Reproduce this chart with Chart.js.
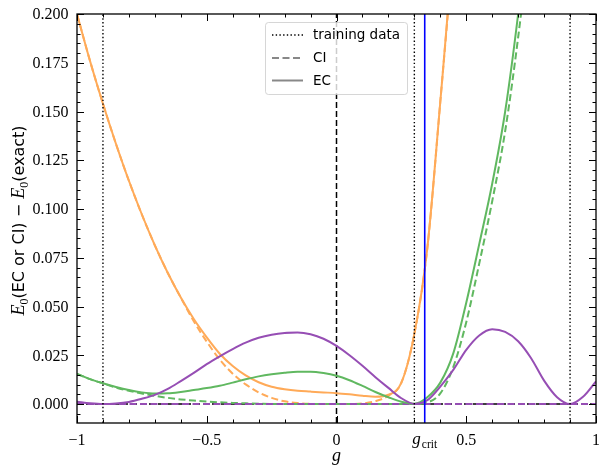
<!DOCTYPE html>
<html>
<head>
<meta charset="utf-8">
<script src="https://cdn.jsdelivr.net/npm/chart.js@4/dist/chart.umd.min.js"></script>
<style>
  html, body { margin: 0; padding: 0; background: #fff; }
  canvas { display: block; }
</style>
</head>
<body>
<canvas id="chart" width="599" height="469" style="width:599px;height:469px"></canvas>
<script>
// Coupling g on the horizontal axis
const gValues = [
  -1.00, -0.95, -0.90, -0.85, -0.80, -0.75, -0.70, -0.65, -0.60, -0.55,
  -0.50, -0.45, -0.40, -0.35, -0.30, -0.25, -0.20, -0.15, -0.10, -0.05,
   0.00,  0.05,  0.10,  0.15,  0.20,  0.25,  0.30,  0.35,  0.40,  0.45,
   0.50,  0.55,  0.60,  0.65,  0.70,  0.75,  0.80,  0.85,  0.90,  0.95,
   1.00
];

// Ground-state error E0(method) - E0(exact), one array per curve
const orangeEC = [
  0.2000, 0.1760, 0.1540, 0.1335, 0.1145, 0.0972, 0.0814, 0.0672, 0.0546, 0.0436,
  0.0342, 0.0258, 0.0195, 0.0147, 0.0112, 0.0089, 0.0076, 0.0068, 0.0064, 0.0060,
  0.0056, 0.0050, 0.0043, 0.0038, 0.0048, 0.011, 0.036, 0.080, 0.155, 0.235,
  0.33, null, null, null, null, null, null, null, null, null,
  null
];
const orangeCI = [
  0.2000, 0.1760, 0.1540, 0.1335, 0.1145, 0.0972, 0.0814, 0.0672, 0.0546, 0.0425,
  0.0320, 0.0228, 0.0156, 0.0101, 0.0060, 0.0032, 0.0014, 0.0005, 0.0001, 0.0,
  0.0, 0.0, 0.0003, 0.0015, 0.0043, 0.011, 0.036, 0.080, 0.155, 0.235,
  0.33, null, null, null, null, null, null, null, null, null,
  null
];
const greenEC = [
  0.0155, 0.0128, 0.0107, 0.0088, 0.0072, 0.0060, 0.0054, 0.0055, 0.0062, 0.0072,
  0.0082, 0.0094, 0.0110, 0.0127, 0.0142, 0.0153, 0.0161, 0.0166, 0.0166, 0.0159,
  0.0145, 0.0122, 0.0093, 0.0062, 0.0035, 0.0012, 0.0002, 0.0035, 0.011, 0.026,
  0.052, 0.082, 0.113, 0.150, 0.200, 0.26, null, null, null, null,
  null
];
const greenCI = [
  0.0155, 0.0128, 0.0106, 0.0085, 0.0068, 0.0054, 0.0042, 0.0032, 0.0024, 0.0018,
  0.0013, 0.0009, 0.0006, 0.0004, 0.0002, 0.0001, 0.0001, 0.0, 0.0, 0.0,
  0.0, 0.0, 0.0, 0.0, 0.0, 0.0, 0.0, 0.0008, 0.0055, 0.019,
  0.042, 0.072, 0.104, 0.140, 0.188, 0.245, null, null, null, null,
  null
];
const purpleEC = [
  0.0012, 0.0004, 0.0, 0.0003, 0.0011, 0.0027, 0.0047, 0.0078, 0.0118, 0.0160,
  0.0205, 0.0245, 0.0282, 0.0315, 0.0340, 0.0356, 0.0365, 0.0367, 0.0358, 0.0335,
  0.0298, 0.0250, 0.0196, 0.0138, 0.0083, 0.0030, 0.0001, 0.0020, 0.0090, 0.0175,
  0.0278, 0.0352, 0.0384, 0.0370, 0.0322, 0.0235, 0.0120, 0.0035, 0.0, 0.0037,
  0.0116
];
const purpleCI = [
  0, 0, 0, 0, 0, 0, 0, 0, 0, 0,
  0, 0, 0, 0, 0, 0, 0, 0, 0, 0,
  0, 0, 0, 0, 0, 0, 0, 0, 0, 0,
  0, 0, 0, 0, 0, 0, 0, 0, 0, 0,
  0
];

// Training points and critical coupling
const trainingG = [-0.9, 0.3, 0.9];
const gCrit = 0.34;

// Axis ranges and tick labels
const xRange = [-1, 1];
const yRange = [-0.0097, 0.2];
const xMajorTicks = [-1, -0.5, 0, 0.5, 1];
const xTickLabels = ['\u22121', '\u22120.5', '0', '0.5', '1'];
const yMajorTicks = [0, 0.025, 0.05, 0.075, 0.1, 0.125, 0.15, 0.175, 0.2];
const yTickLabels = ['0.000', '0.025', '0.050', '0.075', '0.100', '0.125', '0.150', '0.175', '0.200'];
const legendLabels = ['training data', 'CI', 'EC'];

const COLORS = {
  orange: 'rgb(255,170,88)',
  green: 'rgb(96,184,96)',
  purple: 'rgb(150,78,180)',
  blue: '#0000ff',
  black: '#000000'
};

const toPoints = (xs, ys) => xs.map((x, i) => ({ x: x, y: ys[i] }));
const vLine = (x) => [{ x: x, y: yRange[0] }, { x: x, y: yRange[1] }];
const hLine = (y) => [{ x: xRange[0], y: y }, { x: xRange[1], y: y }];

function curve(data, color, dashed, order) {
  return {
    data: toPoints(gValues, data),
    borderColor: color,
    borderWidth: 2,
    borderDash: dashed ? [7, 3.5] : [],
    cubicInterpolationMode: 'monotone',
    pointRadius: 0,
    showLine: true,
    fill: false,
    spanGaps: false,
    clip: 0,
    order: order
  };
}
function straight(data, color, width, dash, order) {
  return {
    data: data,
    borderColor: color,
    borderWidth: width,
    borderDash: dash,
    pointRadius: 0,
    showLine: true,
    fill: false,
    clip: 0,
    order: order
  };
}

const datasets = [
  straight(vLine(gCrit), COLORS.blue, 1.6, [], 0),
  ...trainingG.map(g => straight(vLine(g), COLORS.black, 1.4, [1.4, 2.3], 1)),
  curve(purpleEC, COLORS.purple, false, 2),
  curve(greenEC, COLORS.green, false, 2),
  curve(orangeEC, COLORS.orange, false, 2),
  curve(purpleCI, COLORS.purple, true, 3),
  curve(greenCI, COLORS.green, true, 3),
  curve(orangeCI, COLORS.orange, true, 3),
  straight(vLine(0), COLORS.black, 1.5, [6, 3], 4),
  straight(hLine(0), COLORS.black, 1.5, [6, 3], 4)
];

const SERIF = '"Liberation Serif", "DejaVu Serif", serif';
const SANS = '"DejaVu Sans", sans-serif';

// Matplotlib-style legend box inside the plot area
const legendBox = {
  id: 'legendBox',
  afterDatasetsDraw(chart) {
    const ctx = chart.ctx;
    const x = 265.5, y = 22.5, w = 142, h = 72, r = 3;
    ctx.save();
    ctx.setLineDash([]);
    ctx.beginPath();
    ctx.moveTo(x + r, y);
    ctx.lineTo(x + w - r, y);
    ctx.arcTo(x + w, y, x + w, y + r, r);
    ctx.lineTo(x + w, y + h - r);
    ctx.arcTo(x + w, y + h, x + w - r, y + h, r);
    ctx.lineTo(x + r, y + h);
    ctx.arcTo(x, y + h, x, y + h - r, r);
    ctx.lineTo(x, y + r);
    ctx.arcTo(x, y, x + r, y, r);
    ctx.closePath();
    ctx.fillStyle = 'rgba(255,255,255,0.8)';
    ctx.fill();
    ctx.strokeStyle = 'rgba(204,204,204,0.8)';
    ctx.lineWidth = 1;
    ctx.stroke();

    const rows = [35, 58, 80.5];
    const styles = [
      { color: '#000', width: 1.4, dash: [1.4, 2.3] },
      { color: '#888', width: 2, dash: [7, 3.5] },
      { color: '#888', width: 2, dash: [] }
    ];
    ctx.font = '13.5px ' + SANS;
    ctx.textBaseline = 'middle';
    ctx.textAlign = 'left';
    rows.forEach((ry, i) => {
      const s = styles[i];
      ctx.beginPath();
      ctx.setLineDash(s.dash);
      ctx.strokeStyle = s.color;
      ctx.lineWidth = s.width;
      ctx.moveTo(272, ry);
      ctx.lineTo(303, ry);
      ctx.stroke();
      ctx.setLineDash([]);
      ctx.fillStyle = '#000';
      ctx.fillText(legendLabels[i], 313, ry + 0.5);
    });
    ctx.restore();
  }
};

// Frame, inward ticks on all sides, tick labels and axis titles
const axesFrame = {
  id: 'axesFrame',
  afterDraw(chart) {
    const ctx = chart.ctx;
    const a = chart.chartArea;
    const xs = chart.scales.x, ys = chart.scales.y;
    ctx.save();
    ctx.setLineDash([]);
    ctx.strokeStyle = '#000';

    // ticks
    ctx.lineWidth = 1;
    const tick = (x1, y1, x2, y2) => { ctx.beginPath(); ctx.moveTo(x1, y1); ctx.lineTo(x2, y2); ctx.stroke(); };
    const isMajor = (v, list) => list.some(m => Math.abs(m - v) < 1e-9);
    for (let k = -10; k <= 10; k++) {
      const v = k / 10;
      const px = Math.round(xs.getPixelForValue(v)) + 0.5;
      const len = isMajor(v, xMajorTicks) ? 7 : 3.5;
      tick(px, a.bottom, px, a.bottom - len);
      tick(px, a.top, px, a.top + len);
    }
    for (let k = -1; k <= 40; k++) {
      const v = k * 0.005;
      if (v < yRange[0] || v > yRange[1]) continue;
      const py = Math.round(ys.getPixelForValue(v)) + 0.5;
      const len = isMajor(v, yMajorTicks) ? 7 : 3.5;
      tick(a.left, py, a.left + len, py);
      tick(a.right, py, a.right - len, py);
    }

    // frame
    ctx.lineWidth = 1.3;
    ctx.strokeRect(a.left, a.top, a.right - a.left, a.bottom - a.top);

    // tick labels
    ctx.fillStyle = '#000';
    ctx.font = '16px ' + SERIF;
    ctx.textAlign = 'right';
    ctx.textBaseline = 'middle';
    yMajorTicks.forEach((v, i) => {
      ctx.fillText(yTickLabels[i], 68.5, ys.getPixelForValue(v) + 1);
    });
    ctx.textAlign = 'center';
    ctx.textBaseline = 'alphabetic';
    xMajorTicks.forEach((v, i) => {
      ctx.fillText(xTickLabels[i], xs.getPixelForValue(v), 445);
    });
    // g_crit label
    const gc = xs.getPixelForValue(gCrit);
    ctx.textAlign = 'left';
    ctx.font = 'italic 17px ' + SERIF;
    const gw = ctx.measureText('g').width;
    ctx.font = '11.5px ' + SERIF;
    const cw = ctx.measureText('crit').width;
    const start = gc - (gw + cw + 1) / 2;
    ctx.font = 'italic 17px ' + SERIF;
    ctx.fillText('g', start, 444);
    ctx.font = '11.5px ' + SERIF;
    ctx.fillText('crit', start + gw + 1, 448);

    // x axis title
    ctx.textAlign = 'center';
    ctx.font = 'italic 18px ' + SERIF;
    ctx.fillText('g', xs.getPixelForValue(0), 461);

    // y axis title, rotated, mixed fonts
    const parts = [
      { t: 'E', f: 'italic 18px ' + SERIF, dy: 0 },
      { t: '0', f: '12px ' + SERIF, dy: 4 },
      { t: '(EC or CI) \u2212 ', f: '16px ' + SANS, dy: 0 },
      { t: 'E', f: 'italic 18px ' + SERIF, dy: 0 },
      { t: '0', f: '12px ' + SERIF, dy: 4 },
      { t: '(exact)', f: '16px ' + SANS, dy: 0 }
    ];
    let total = 0;
    parts.forEach(p => { ctx.font = p.f; p.w = ctx.measureText(p.t).width; total += p.w; });
    ctx.translate(18, (a.top + a.bottom) / 2 + 2);
    ctx.rotate(-Math.PI / 2);
    ctx.textAlign = 'left';
    let cx = -total / 2;
    parts.forEach(p => {
      ctx.font = p.f;
      ctx.fillText(p.t, cx, 6 + p.dy);
      cx += p.w;
    });
    ctx.restore();
  }
};

new Chart(document.getElementById('chart'), {
  type: 'scatter',
  data: { datasets: datasets },
  options: {
    responsive: false,
    devicePixelRatio: 1,
    animation: false,
    layout: { padding: { left: 77, right: 3, top: 14, bottom: 46 } },
    plugins: { legend: { display: false }, tooltip: { enabled: false } },
    scales: {
      x: { type: 'linear', min: xRange[0], max: xRange[1], display: false },
      y: { type: 'linear', min: yRange[0], max: yRange[1], display: false }
    }
  },
  plugins: [legendBox, axesFrame]
});
</script>
</body>
</html>
